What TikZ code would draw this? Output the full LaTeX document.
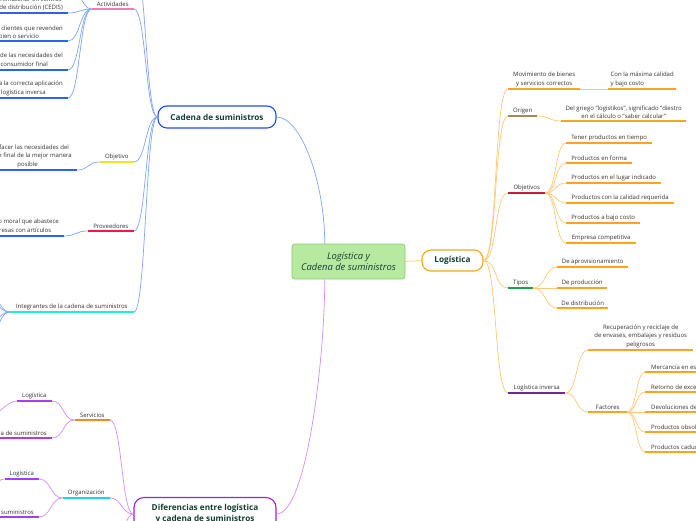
\documentclass[tikz,border=0pt]{standalone}
\usepackage{fontspec}
\setmainfont{Open Sans}
\usepackage{xcolor}
\definecolor{txt}{HTML}{333333}
\definecolor{headtxt}{HTML}{123F30}
\definecolor{rootfill}{HTML}{B8E9A1}
\definecolor{rootdraw}{HTML}{8ACF69}
\definecolor{bline}{HTML}{7FA5FF}
\definecolor{bdeep}{HTML}{2A62F2}
\definecolor{bnode}{HTML}{1E4FE3}
\definecolor{pinkul}{HTML}{F57AB3}
\definecolor{yellowul}{HTML}{F3E12B}
\definecolor{redul}{HTML}{F31842}
\definecolor{turqul}{HTML}{1DEED6}
\definecolor{oline}{HTML}{FFC875}
\definecolor{odeep}{HTML}{FBA51F}
\definecolor{onode}{HTML}{F6A524}
\definecolor{brownul}{HTML}{A08B5E}
\definecolor{crimsonul}{HTML}{C71A3C}
\definecolor{greenul}{HTML}{19A64A}
\definecolor{violetul}{HTML}{6B2C92}
\definecolor{pline}{HTML}{D28EFF}
\definecolor{pdeep}{HTML}{A83CF2}
\definecolor{pnode}{HTML}{9A20EE}
\definecolor{orangeul}{HTML}{F08A21}
\definecolor{cyanul}{HTML}{1DD0F6}
\usetikzlibrary{positioning}

\begin{document}
\begin{tikzpicture}[x=1pt, y=-1pt, font=\fontsize{6}{8.4}\selectfont, text=txt,
    topic/.style={anchor=south west, inner xsep=0pt, inner ysep=2.2pt, align=center},
    ltopic/.style={topic, anchor=south east},
    rcut/.style={anchor=south west, inner xsep=6pt, inner ysep=2.2pt},
    lcut/.style={anchor=south east, inner xsep=5pt, inner ysep=2.2pt, align=center},
    hub/.style={draw, line width=1.1pt, rounded corners=9pt, align=center,
      font=\fontsize{8.2}{10.6}\selectfont\bfseries, text=headtxt},
    blink/.style={draw=bline, line width=0.7pt},
    olink/.style={draw=oline, line width=0.7pt},
    plink/.style={draw=pline, line width=0.7pt},
    ul/.style={line width=2.6pt},
    sul/.style={line width=1.8pt}]
  % page
  \useasboundingbox (0,0) rectangle (696,520);
  \fill[white] (0,0) rectangle (696,520);
  \clip (0,0) rectangle (696,520);

  % centre and the three main topics
  \node[draw=rootdraw, fill=rootfill, line width=0.8pt, rounded corners=3pt, minimum width=113, minimum height=35,
    align=center, text=headtxt, font=\fontsize{9.4}{11.2}\selectfont\itshape] (root) at (348.5,261.5) {Logística y\\Cadena de suministros};
  \node[hub, draw=onode, minimum width=61, minimum height=21] (log) at (452.5,260.5) {Logística};
  \node[hub, draw=bnode, minimum width=118, minimum height=22] (cad) at (217,117) {Cadena de suministros};
  \node[hub, draw=pnode, minimum width=142, minimum height=33, rounded corners=10pt] (dif) at (205,514) {Diferencias entre logística\\y cadena de suministros};

  \draw[olink] (root.east) -- (log.west);
  \draw[blink] (root.143) .. controls +(0,-60) and +(25,0) .. (cad.east);
  \draw[plink] (root.217) .. controls +(0,80) and +(30,0) .. (dif.east);

  % Logistica
  \node[topic, minimum width=72] (mov) at (508,89) {Movimiento de bienes\\y servicios correctos};
  \node[topic, minimum width=68, align=left] (cal) at (608,89) {Con la máxima calidad\\y bajo costo};
  \node[topic, minimum width=29] (ori) at (508,116) {Origen};
  \node[topic, minimum width=125] (gri) at (561,121) {Del griego "logistikos", significado "diestro\\en el cálculo o "saber calcular"};
  \node[topic, minimum width=37] (obj) at (508,193) {Objetivos};
  \node[topic, minimum width=86] (o1) at (566,143) {Tener productos en tiempo};
  \node[topic, minimum width=66] (o2) at (566,163) {Productos en forma};
  \node[topic, minimum width=95] (o3) at (566,183) {Productos en el lugar indicado};
  \node[topic, minimum width=108] (o4) at (566,203) {Productos con la calidad requerida};
  \node[topic, minimum width=74] (o5) at (566,223) {Productos a bajo costo};
  \node[topic, minimum width=70] (o6) at (566,243) {Empresa competitiva};
  \node[topic, minimum width=25] (tip) at (508,288) {Tipos};
  \node[topic, minimum width=71] (t1) at (557,267) {De aprovisionamiento};
  \node[topic, minimum width=50] (t2) at (557,288) {De producción};
  \node[topic, minimum width=51] (t3) at (557,308) {De distribución};
  \node[topic, minimum width=57] (inv) at (508,393) {Logística inversa};
  \node[topic, minimum width=105] (rec) at (588,350) {Recuperación y reciclaje de\\de envases, embalajes y residuos\\peligrosos};
  \node[topic, minimum width=39] (fac) at (588,412) {Factores};
  \node[rcut] (f1) at (645,372) {Mercancía en estado defectuoso};
  \node[rcut] (f2) at (645,392) {Retorno de excesos de inventario};
  \node[rcut] (f3) at (645,412) {Devoluciones de clientes};
  \node[rcut] (f4) at (645,432) {Productos obsoletos};
  \node[rcut] (f5) at (645,452) {Productos caducados};

  \foreach \n in {mov,ori,obj,tip,inv}
    \draw[olink] (log.east) .. controls +(14,0) and +(-14,0) .. (\n.south west);
  \draw[olink] (mov.south east) -- (cal.south west);
  \draw[olink] (ori.south east) .. controls +(12,0) and +(-12,0) .. (gri.south west);
  \foreach \i in {1,...,6}
    \draw[olink] (obj.south east) .. controls +(11,0) and +(-11,0) .. (o\i.south west);
  \foreach \i in {1,2,3}
    \draw[olink] (tip.south east) .. controls +(12,0) and +(-12,0) .. (t\i.south west);
  \foreach \n in {rec,fac}
    \draw[olink] (inv.south east) .. controls +(12,0) and +(-12,0) .. (\n.south west);
  \foreach \i in {1,...,5}
    \draw[olink] (fac.south east) .. controls +(9,0) and +(-9,0) .. (f\i.south west);

  \draw[ul, odeep] (mov.south west) -- (mov.south east);
  \draw[ul, brownul] (ori.south west) -- (ori.south east);
  \draw[ul, crimsonul] (obj.south west) -- (obj.south east);
  \draw[ul, greenul] (tip.south west) -- (tip.south east);
  \draw[ul, violetul] (inv.south west) -- (inv.south east);
  \foreach \n in {cal,gri,o1,o2,o3,o4,o5,o6,t1,t2,t3,rec,fac,f1,f2,f3,f4,f5}
    \draw[sul, odeep] (\n.south west) -- (\n.south east);

  % Cadena de suministros
  \node[ltopic, minimum width=42] (act) at (134,9) {Actividades};
  \node[lcut] (a1) at (68,13) {Almacenar en centros\\de distribución (CEDIS)};
  \node[lcut] (a2) at (68,41) {Distribuir a clientes que revenden\\el bien o servicio};
  \node[lcut] (a3) at (68,70) {Satisfacción de las necesidades del\\propio consumidor final};
  \node[lcut] (a4) at (68,98) {Contribuir a la correcta aplicación\\de la logística inversa};
  \node[ltopic, minimum width=34] (obv) at (134,162) {Objetivo};
  \node[lcut] (sat) at (77,170) {Satisfacer las necesidades del\\cliente final de la mejor manera\\posible};
  \node[ltopic, minimum width=46] (pro) at (134,231) {Proveedores};
  \node[lcut] (per) at (64,236) {Persona física o moral que abastece\\a otras empresas con artículos};
  \node[ltopic, minimum width=124] (int) at (134,312) {Integrantes de la cadena de suministros};
  \coordinate (cup) at (134,-40);
  \coordinate (aup) at (68,-18);
  \coordinate (i1) at (-16,284);
  \coordinate (i2) at (-16,296);
  \coordinate (i3) at (-16,328);
  \coordinate (i4) at (-16,346);

  \foreach \n in {act,obv,pro,int}
    \draw[blink] (cad.west) .. controls +(-12,0) and +(12,0) .. (\n.south east);
  \draw[blink] (cad.west) .. controls +(-12,0) and +(12,0) .. (cup);
  \foreach \i in {1,...,4}
    \draw[blink] (act.south west) .. controls +(-12,0) and +(12,0) .. (a\i.south east);
  \draw[blink] (act.south west) .. controls +(-12,0) and +(12,0) .. (aup);
  \draw[blink] (obv.south west) .. controls +(-12,0) and +(12,0) .. (sat.south east);
  \draw[blink] (pro.south west) .. controls +(-12,0) and +(12,0) .. (per.south east);
  \foreach \i in {1,...,4}
    \draw[blink] (int.south west) .. controls +(-12,0) and +(12,0) .. (i\i);

  \draw[ul, pinkul] (act.south west) -- (act.south east);
  \draw[ul, yellowul] (obv.south west) -- (obv.south east);
  \draw[ul, redul] (pro.south west) -- (pro.south east);
  \draw[ul, turqul] (int.south west) -- (int.south east);
  \foreach \n in {a1,a2,a3,a4,sat,per}
    \draw[sul, bdeep] (\n.south west) -- (\n.south east);

  % Diferencias
  \node[ltopic, minimum width=35] (ser) at (110,420) {Servicios};
  \node[ltopic, minimum width=35] (slog) at (52,401) {Logística};
  \node[lcut] (scad) at (52,438) {Cadena de suministros};
  \node[ltopic, minimum width=47] (org) at (110,498) {Organización};
  \node[ltopic, minimum width=34] (olog) at (39,479) {Logística};
  \node[lcut] (ocad) at (39,517) {Cadena de suministros};
  \coordinate (dlow) at (110,565);
  \coordinate (sl) at (-12,418);
  \coordinate (ol) at (-12,494);

  \foreach \n in {ser,org}
    \draw[plink] (dif.west) .. controls +(-12,0) and +(12,0) .. (\n.south east);
  \draw[plink] (dif.west) .. controls +(-12,0) and +(12,0) .. (dlow);
  \foreach \n in {slog,scad}
    \draw[plink] (ser.south west) .. controls +(-12,0) and +(12,0) .. (\n.south east);
  \foreach \n in {olog,ocad}
    \draw[plink] (org.south west) .. controls +(-12,0) and +(12,0) .. (\n.south east);
  \draw[plink] (slog.south west) .. controls +(-10,0) and +(8,0) .. (sl);
  \draw[plink] (olog.south west) .. controls +(-10,0) and +(8,0) .. (ol);

  \draw[ul, orangeul] (ser.south west) -- (ser.south east);
  \draw[ul, cyanul] (org.south west) -- (org.south east);
  \foreach \n in {slog,scad,olog,ocad}
    \draw[sul, pdeep] (\n.south west) -- (\n.south east);
\end{tikzpicture}
\end{document}
